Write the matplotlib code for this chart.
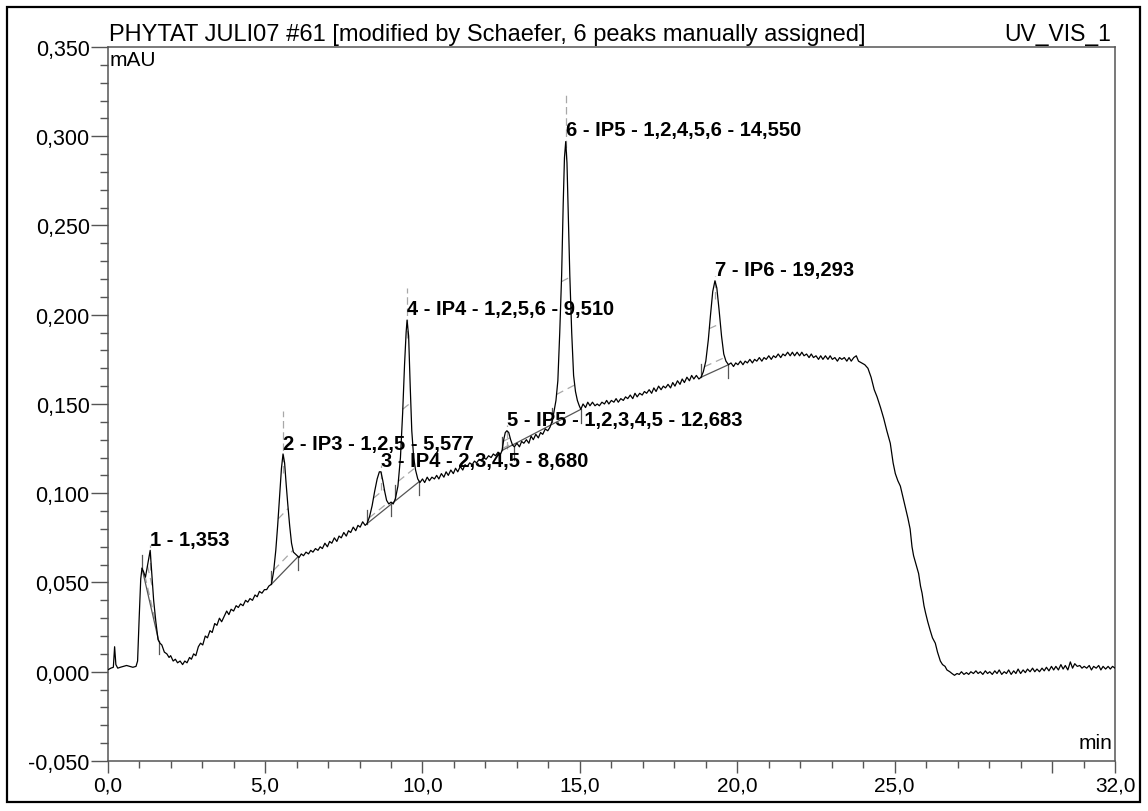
import numpy as np
import matplotlib
matplotlib.use("Agg")
import matplotlib.pyplot as plt
from matplotlib.ticker import FixedLocator, MultipleLocator, FuncFormatter
from matplotlib.patches import Rectangle

# ---------------- data ----------------
trace_pairs = [
    (0.00, 0.0010), (0.10, 0.0020), (0.18, 0.0025), (0.22, 0.0140), (0.26, 0.0040), (0.32, 0.0020),
    (0.40, 0.0025), (0.50, 0.0030), (0.60, 0.0035), (0.70, 0.0030), (0.80, 0.0025), (0.90, 0.0030),
    (0.95, 0.0060), (1.00, 0.030), (1.05, 0.052), (1.09, 0.058), (1.14, 0.056), (1.20, 0.053),
    (1.27, 0.060), (1.35, 0.068), (1.40, 0.055), (1.46, 0.040), (1.53, 0.028), (1.60, 0.018),
    (1.66, 0.016), (1.72, 0.015), (1.80, 0.011), (1.88, 0.010), (1.95, 0.008), (2.00, 0.009),
    (2.08, 0.006), (2.15, 0.007), (2.22, 0.005), (2.30, 0.006), (2.38, 0.004), (2.45, 0.006),
    (2.52, 0.005), (2.60, 0.008), (2.66, 0.007), (2.73, 0.010), (2.80, 0.009), (2.88, 0.014),
    (2.95, 0.016), (3.02, 0.015), (3.10, 0.020), (3.17, 0.019), (3.25, 0.023), (3.32, 0.022),
    (3.40, 0.027), (3.47, 0.026), (3.55, 0.030), (3.62, 0.028), (3.70, 0.031), (3.78, 0.034),
    (3.85, 0.032), (3.92, 0.035), (4.00, 0.034), (4.08, 0.037), (4.15, 0.036), (4.22, 0.038),
    (4.30, 0.037), (4.38, 0.040), (4.45, 0.039), (4.52, 0.041), (4.60, 0.040), (4.68, 0.043),
    (4.75, 0.042), (4.82, 0.045), (4.90, 0.044), (4.98, 0.046), (5.05, 0.046), (5.12, 0.048),
    (5.20, 0.049),
    (5.27, 0.056), (5.34, 0.068), (5.40, 0.082), (5.46, 0.098), (5.52, 0.114), (5.57, 0.122),
    (5.62, 0.117), (5.67, 0.105), (5.72, 0.094), (5.78, 0.082), (5.84, 0.072), (5.90, 0.067),
    (5.96, 0.066), (6.02, 0.065), (6.08, 0.064),
    (6.15, 0.066), (6.22, 0.065), (6.30, 0.067), (6.38, 0.066), (6.45, 0.068), (6.52, 0.067),
    (6.60, 0.069), (6.68, 0.068), (6.75, 0.070), (6.82, 0.069), (6.90, 0.072), (6.98, 0.070),
    (7.05, 0.073), (7.12, 0.072), (7.20, 0.075), (7.28, 0.073), (7.35, 0.076), (7.42, 0.075),
    (7.50, 0.078), (7.58, 0.076), (7.65, 0.079), (7.72, 0.078), (7.80, 0.081), (7.88, 0.079),
    (7.95, 0.082), (8.02, 0.081), (8.10, 0.084), (8.18, 0.082), (8.24, 0.083),
    (8.32, 0.087), (8.40, 0.093), (8.48, 0.101), (8.56, 0.108), (8.63, 0.112), (8.68, 0.112),
    (8.74, 0.107), (8.80, 0.101), (8.86, 0.096), (8.93, 0.094), (9.00, 0.095), (9.07, 0.094),
    (9.14, 0.097),
    (9.22, 0.104), (9.30, 0.120), (9.37, 0.145), (9.43, 0.172), (9.48, 0.190), (9.51, 0.197),
    (9.56, 0.188), (9.61, 0.160), (9.66, 0.135), (9.72, 0.120), (9.78, 0.113), (9.85, 0.108),
    (9.92, 0.106),
    (10.00, 0.108), (10.07, 0.106), (10.15, 0.109), (10.22, 0.107), (10.30, 0.109), (10.38, 0.108),
    (10.45, 0.110), (10.52, 0.108), (10.60, 0.111), (10.68, 0.109), (10.75, 0.112), (10.82, 0.110),
    (10.90, 0.113), (10.98, 0.111), (11.05, 0.114), (11.12, 0.112), (11.20, 0.115), (11.28, 0.113),
    (11.35, 0.116), (11.42, 0.115), (11.50, 0.117), (11.58, 0.116), (11.65, 0.118), (11.72, 0.117),
    (11.80, 0.119), (11.88, 0.118), (11.95, 0.120), (12.02, 0.119), (12.10, 0.121), (12.18, 0.120),
    (12.25, 0.122), (12.32, 0.121), (12.40, 0.123), (12.48, 0.122), (12.53, 0.124),
    (12.58, 0.130), (12.63, 0.134), (12.68, 0.135), (12.74, 0.134), (12.80, 0.130), (12.86, 0.127),
    (12.92, 0.126),
    (13.00, 0.128), (13.08, 0.126), (13.15, 0.129), (13.22, 0.128), (13.30, 0.130), (13.38, 0.128),
    (13.45, 0.132), (13.52, 0.130), (13.60, 0.133), (13.68, 0.131), (13.75, 0.134), (13.82, 0.133),
    (13.90, 0.136), (13.98, 0.135), (14.05, 0.137), (14.11, 0.140),
    (14.17, 0.145), (14.24, 0.152), (14.30, 0.163), (14.36, 0.190), (14.42, 0.222), (14.47, 0.262),
    (14.51, 0.288), (14.55, 0.297), (14.59, 0.285), (14.63, 0.258), (14.68, 0.222), (14.74, 0.190),
    (14.80, 0.166), (14.86, 0.157), (14.92, 0.152), (14.98, 0.149), (15.03, 0.147),
    (15.10, 0.150), (15.18, 0.148), (15.25, 0.151), (15.32, 0.149), (15.40, 0.151), (15.48, 0.149),
    (15.55, 0.150), (15.62, 0.149), (15.70, 0.151), (15.78, 0.150), (15.85, 0.152), (15.92, 0.150),
    (16.00, 0.152), (16.08, 0.151), (16.15, 0.153), (16.22, 0.151), (16.30, 0.153), (16.38, 0.152),
    (16.45, 0.154), (16.52, 0.153), (16.60, 0.155), (16.68, 0.153), (16.75, 0.156), (16.82, 0.154),
    (16.90, 0.156), (16.98, 0.155), (17.05, 0.157), (17.12, 0.156), (17.20, 0.158), (17.28, 0.156),
    (17.35, 0.159), (17.42, 0.157), (17.50, 0.160), (17.58, 0.158), (17.65, 0.160), (17.72, 0.159),
    (17.80, 0.161), (17.88, 0.159), (17.95, 0.162), (18.02, 0.160), (18.10, 0.163), (18.18, 0.161),
    (18.25, 0.164), (18.32, 0.162), (18.40, 0.165), (18.48, 0.163), (18.55, 0.166), (18.62, 0.164),
    (18.70, 0.166), (18.78, 0.164), (18.85, 0.165),
    (18.92, 0.168), (19.00, 0.174), (19.08, 0.186), (19.15, 0.200), (19.22, 0.213), (19.29, 0.219),
    (19.35, 0.215), (19.42, 0.203), (19.50, 0.188), (19.57, 0.178), (19.64, 0.174), (19.72, 0.172),
    (19.80, 0.173), (19.88, 0.171), (19.95, 0.173), (20.02, 0.172), (20.10, 0.174), (20.18, 0.172),
    (20.25, 0.174), (20.32, 0.173), (20.40, 0.175), (20.48, 0.173), (20.55, 0.175), (20.62, 0.174),
    (20.70, 0.176), (20.78, 0.174), (20.85, 0.176), (20.92, 0.175), (21.00, 0.177), (21.08, 0.175),
    (21.15, 0.177), (21.22, 0.176), (21.30, 0.178), (21.38, 0.176), (21.45, 0.178), (21.52, 0.177),
    (21.60, 0.179), (21.68, 0.177), (21.75, 0.179), (21.82, 0.177), (21.90, 0.179), (21.98, 0.177),
    (22.05, 0.179), (22.12, 0.177), (22.20, 0.178), (22.28, 0.176), (22.35, 0.178), (22.42, 0.176),
    (22.50, 0.177), (22.58, 0.175), (22.65, 0.177), (22.72, 0.175), (22.80, 0.177), (22.88, 0.175),
    (22.95, 0.177), (23.02, 0.175), (23.10, 0.176), (23.18, 0.174), (23.25, 0.176), (23.32, 0.175),
    (23.40, 0.176), (23.48, 0.174), (23.55, 0.176), (23.62, 0.174), (23.70, 0.176), (23.78, 0.177),
    (23.85, 0.174), (23.95, 0.173), (24.05, 0.172), (24.15, 0.170),
    (24.25, 0.165), (24.35, 0.158), (24.44, 0.154), (24.55, 0.148), (24.65, 0.142), (24.75, 0.135),
    (24.86, 0.128), (24.95, 0.117), (25.02, 0.111), (25.10, 0.107), (25.18, 0.104), (25.26, 0.098),
    (25.34, 0.092), (25.42, 0.086), (25.49, 0.080), (25.55, 0.070), (25.60, 0.065), (25.68, 0.060),
    (25.76, 0.055), (25.82, 0.048), (25.87, 0.044), (25.93, 0.037), (25.98, 0.033), (26.05, 0.028),
    (26.13, 0.023), (26.20, 0.019), (26.29, 0.016), (26.36, 0.011), (26.45, 0.006), (26.52, 0.004),
    (26.60, 0.003), (26.66, 0.001), (26.75, 0.000),
    (26.82, -0.001), (26.90, -0.002), (26.98, -0.001), (27.05, -0.0015), (27.12, 0.000), (27.20, -0.0015),
    (27.28, -0.0005), (27.35, -0.0015), (27.42, 0.000), (27.50, -0.001), (27.58, 0.0005), (27.65, -0.001),
    (27.72, 0.000), (27.80, -0.0015), (27.88, 0.0005), (27.95, -0.001), (28.02, 0.000), (28.10, -0.0015),
    (28.18, 0.0005), (28.25, -0.001), (28.32, 0.001), (28.40, -0.0015), (28.48, 0.000), (28.55, -0.001),
    (28.62, 0.001), (28.70, -0.0015), (28.78, 0.0005), (28.85, -0.001), (28.92, 0.0015), (29.00, -0.001),
    (29.08, 0.001), (29.15, -0.0005), (29.22, 0.0015), (29.30, 0.000), (29.38, 0.002), (29.45, 0.000),
    (29.52, 0.0015), (29.60, 0.000), (29.68, 0.002), (29.75, 0.0005), (29.82, 0.0025), (29.90, 0.0005),
    (29.98, 0.003), (30.05, 0.001), (30.12, 0.003), (30.20, 0.001), (30.28, 0.004), (30.35, 0.0015),
    (30.42, 0.0035), (30.50, 0.001), (30.58, 0.0055), (30.65, 0.002), (30.72, 0.0045), (30.80, 0.003),
    (30.88, 0.0035), (30.95, 0.002), (31.02, 0.003), (31.10, 0.002), (31.18, 0.0035), (31.25, 0.001),
    (31.32, 0.003), (31.40, 0.002), (31.48, 0.0035), (31.55, 0.001), (31.62, 0.003), (31.70, 0.0015),
    (31.78, 0.003), (31.85, 0.0015), (31.92, 0.003), (32.00, 0.002),
]
time_min = [p[0] for p in trace_pairs]
signal_mau = [p[1] for p in trace_pairs]

peak_labels = ["1 - 1,353", "2 - IP3 - 1,2,5 - 5,577", "3 - IP4 - 2,3,4,5 - 8,680",
               "4 - IP4 - 1,2,5,6 - 9,510", "5 - IP5 - 1,2,3,4,5 - 12,683",
               "6 - IP5 - 1,2,4,5,6 - 14,550", "7 - IP6 - 19,293"]
peak_apex_t = [1.353, 5.577, 8.680, 9.510, 12.683, 14.550, 19.293]
peak_start_t = [1.09, 5.20, 8.24, 9.14, 12.53, 14.11, 18.85]
peak_end_t = [1.62, 6.05, 9.00, 9.90, 12.92, 15.03, 19.72]
peak_apex_ext = [0.004, 0.025, 0.004, 0.018, 0.003, 0.026, 0.003]
baseline_start_t = [1.09, 5.20, 8.24, 12.53, 18.85]
baseline_end_t = [1.62, 6.05, 9.90, 15.03, 19.72]

title_left = "PHYTAT JULI07 #61 [modified by Schaefer, 6 peaks manually assigned]"
title_right = "UV_VIS_1"
x_major = [0, 5, 10, 15, 20, 25, 30, 32]

# ---------------- drawing ----------------
plt.rcParams['font.family'] = ['Liberation Sans', 'DejaVu Sans']
fig = plt.figure(figsize=(11.48, 8.12), dpi=100)
ax = fig.add_axes([0.0938, 0.0616, 0.8775, 0.8793])

t = np.array(time_min)
s = np.array(signal_mau)

GREY = '#555555'
LGREY = '#a8a8a8'

ax.plot(t, s, color='black', lw=0.9, zorder=3)


def interp(x):
    return np.interp(x, t, s)


def baseline_for(tp):
    for a, b in zip(baseline_start_t, baseline_end_t):
        if a - 1e-6 <= tp <= b + 1e-6:
            return a, b
    return None


# baselines
for a, b in zip(baseline_start_t, baseline_end_t):
    ax.plot([a, b], [interp(a), interp(b)], color=GREY, lw=0.9, zorder=2)

fine = np.linspace(0, 32, 32001)
sf = np.interp(fine, t, s)
for lab, ta, ts, te, ext in zip(peak_labels, peak_apex_t, peak_start_t, peak_end_t, peak_apex_ext):
    a, b = baseline_for(ta)
    va_, vb_ = interp(a), interp(b)

    def base(x):
        return va_ + (vb_ - va_) * (x - a) / (b - a)

    ys, ye = interp(ts), interp(te)
    # delimiter ticks
    ax.plot([ts, ts], [ys, ys + 0.0075], color=GREY, lw=0.9, zorder=2)
    ax.plot([te, te], [ye, ye - 0.0075], color=GREY, lw=0.9, zorder=2)
    # apex marker
    yap = interp(ta)
    ax.plot([ta, ta], [yap - 0.01, yap + ext], color=LGREY, lw=0.9, ls=(0, (6, 3)), zorder=1)
    # width lines
    h = yap - base(ta)
    for f in (0.1, 0.5):
        m = (fine >= ts) & (fine <= te)
        fx, fy = fine[m], sf[m] - base(fine[m])
        left = fx[(fx <= ta) & (fy >= f * h)]
        right = fx[(fx >= ta) & (fy >= f * h)]
        if len(left) and len(right):
            tl, tr = left.min(), right.max()
            ax.plot([tl, tr], [base(tl) + f * h, base(tr) + f * h], color=LGREY, lw=0.9,
                    ls=(0, (6, 4)), zorder=1)
    ax.annotate(lab, xy=(ta, yap), xytext=(0, 4.5), textcoords='offset points',
                ha='left', va='baseline', fontsize=14.5, fontweight='bold', zorder=5)

ax.set_xlim(0, 32)
ax.set_ylim(-0.05, 0.35)
ax.xaxis.set_major_locator(FixedLocator(x_major))
ax.xaxis.set_major_formatter(FuncFormatter(lambda v, p: '' if abs(v - 30) < 1e-6 else f"{v:.1f}".replace('.', ',')))
ax.xaxis.set_minor_locator(MultipleLocator(1))
ax.yaxis.set_major_locator(MultipleLocator(0.05))
ax.yaxis.set_minor_locator(MultipleLocator(0.01))
ax.yaxis.set_major_formatter(FuncFormatter(lambda v, p: f"{v:.3f}".replace('.', ',')))

ax.tick_params(axis='x', which='major', length=8.6, width=1, color=GREY, pad=2, labelsize=15)
ax.tick_params(axis='x', which='minor', length=5, width=1, color=GREY)
ax.tick_params(axis='y', which='major', length=12, width=1, color=GREY, pad=1, labelsize=15.5)
ax.tick_params(axis='y', which='minor', length=5.8, width=1, color=GREY)
for sp in ax.spines.values():
    sp.set_color(GREY)
    sp.set_linewidth(1.1)

ax.text(0.002, 0.996, "mAU", transform=ax.transAxes, ha='left', va='top', fontsize=15)
ax.text(0.997, 0.012, "min", transform=ax.transAxes, ha='right', va='bottom', fontsize=15)
ax.annotate(title_left, xy=(0, 1), xycoords='axes fraction', xytext=(1, 5),
            textcoords='offset points', ha='left', va='baseline', fontsize=17)
ax.annotate(title_right, xy=(1, 1), xycoords='axes fraction', xytext=(-3, 5),
            textcoords='offset points', ha='right', va='baseline', fontsize=16.5)

fig.patches.append(Rectangle((0.0065, 0.011), 0.9865, 0.979, transform=fig.transFigure,
                             fill=False, edgecolor='black', lw=1.6))

fig.savefig("out.png", dpi=100)
